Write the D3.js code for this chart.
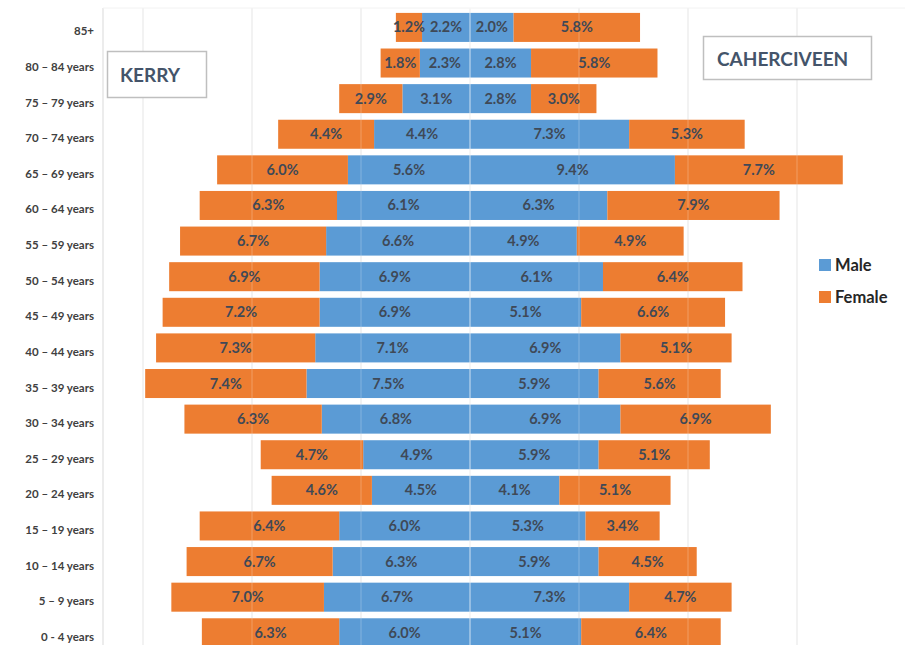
<!DOCTYPE html>
<head>
    <meta charset="utf-8">
    <title>Kerry vs Caherciveen population pyramid</title>
    <script src="https://d3js.org/d3.v7.min.js"></script>
    <style>
        body { margin: 0; background: #fff; }
        text { font-family: Lato, Calibri, "Open Sans", sans-serif; }
    </style>
</head>
<body>
    <script>
        const ageGroups = ["85+", "80 – 84 years", "75 – 79 years", "70 – 74 years", "65 – 69 years",
            "60 – 64 years", "55 – 59 years", "50 – 54 years", "45 – 49 years", "40 – 44 years",
            "35 – 39 years", "30 – 34 years", "25 – 29 years", "20 – 24 years", "15 – 19 years",
            "10 – 14 years", "5 – 9 years", "0 - 4 years"]

        const kerryMale = [2.2, 2.3, 3.1, 4.4, 5.6, 6.1, 6.6, 6.9, 6.9, 7.1, 7.5, 6.8, 4.9, 4.5, 6.0, 6.3, 6.7, 6.0]
        const kerryFemale = [1.2, 1.8, 2.9, 4.4, 6.0, 6.3, 6.7, 6.9, 7.2, 7.3, 7.4, 6.3, 4.7, 4.6, 6.4, 6.7, 7.0, 6.3]
        const caherMale = [2.0, 2.8, 2.8, 7.3, 9.4, 6.3, 4.9, 6.1, 5.1, 6.9, 5.9, 6.9, 5.9, 4.1, 5.3, 5.9, 7.3, 5.1]
        const caherFemale = [5.8, 5.8, 3.0, 5.3, 7.7, 7.9, 4.9, 6.4, 6.6, 5.1, 5.6, 6.9, 5.1, 5.1, 3.4, 4.5, 4.7, 6.4]

        const gridTicks = [-15, -10, -5, 0, 5, 10, 15]
        const legendItems = ["Male", "Female"]

        const width = 908
        const height = 645
        const blue = "#5b9bd5"
        const orange = "#ed7d31"

        const vis = d3.select("body").append("svg")
            .attr("width", width)
            .attr("height", height)

        // value axis: percent, negative = Kerry (left), positive = Caherciveen (right)
        const x = d3.scaleLinear().domain([-15, 15]).range([143, 797])
        const y = d3.scaleBand().domain(ageGroups).range([9.7, 650.5]).paddingInner(0.185).paddingOuter(0.09)

        // stacked segments: male next to centre, female outside
        const segments = []
        ageGroups.forEach((g, i) => {
            segments.push({ g, x0: -kerryMale[i], x1: 0, v: kerryMale[i], c: blue })
            segments.push({ g, x0: -kerryMale[i] - kerryFemale[i], x1: -kerryMale[i], v: kerryFemale[i], c: orange })
            segments.push({ g, x0: 0, x1: caherMale[i], v: caherMale[i], c: blue })
            segments.push({ g, x0: caherMale[i], x1: caherMale[i] + caherFemale[i], v: caherFemale[i], c: orange })
        })

        // light grid below bars
        vis.append("g").selectAll("line")
            .data(gridTicks)
            .join("line")
                .attr("x1", (d) => x(d)).attr("x2", (d) => x(d))
                .attr("y1", 8).attr("y2", height)
                .attr("stroke", "#e3e3e3")

        vis.append("line")
            .attr("x1", 103).attr("x2", 103).attr("y1", 8).attr("y2", height)
            .attr("stroke", "#d9d9d9")
        vis.append("line")
            .attr("x1", 103).attr("x2", 905).attr("y1", 8).attr("y2", 8)
            .attr("stroke", "#f2f2f2")

        vis.append("g").selectAll("rect")
            .data(segments)
            .join("rect")
                .attr("x", (d) => x(d.x0))
                .attr("width", (d) => x(d.x1) - x(d.x0))
                .attr("y", (d) => y(d.g))
                .attr("height", y.bandwidth())
                .attr("fill", (d) => d.c)

        // grid shows faintly through the bars
        vis.append("g").selectAll("line")
            .data(gridTicks)
            .join("line")
                .attr("x1", (d) => x(d)).attr("x2", (d) => x(d))
                .attr("y1", 8).attr("y2", height)
                .attr("stroke", "#ffffff")
                .attr("stroke-opacity", (d) => d === 0 ? 0.7 : 0.25)

        vis.append("g").selectAll("text")
            .data(segments)
            .join("text")
                .attr("x", (d) => (x(d.x0) + x(d.x1)) / 2)
                .attr("y", (d) => y(d.g) + y.bandwidth() / 2 + 5)
                .attr("text-anchor", "middle")
                .attr("font-size", 14.5)
                .attr("font-weight", "bold")
                .attr("fill", "#3f4957")
                .text((d) => d.v.toFixed(1) + "%")

        // category labels
        vis.append("g").selectAll("text")
            .data(ageGroups)
            .join("text")
                .attr("x", 94)
                .attr("y", (d) => y(d) + y.bandwidth() / 2 + 8)
                .attr("text-anchor", "end")
                .attr("font-size", 11.5)
                .attr("font-weight", "bold")
                .attr("fill", "#404040")
                .text((d) => d)

        // title boxes
        vis.append("rect").attr("x", 107.5).attr("y", 51.5).attr("width", 99).attr("height", 46)
            .attr("fill", "#fff").attr("stroke", "#bfbfbf").attr("stroke-width", 1.5)
        vis.append("text").attr("x", 120).attr("y", 82)
            .attr("font-size", 19).attr("font-weight", "bold").attr("fill", "#44546a")
            .text("KERRY")

        vis.append("rect").attr("x", 703.5).attr("y", 36.5).attr("width", 168).attr("height", 43)
            .attr("fill", "#fff").attr("stroke", "#bfbfbf").attr("stroke-width", 1.5)
        vis.append("text").attr("x", 717).attr("y", 66)
            .attr("font-size", 19).attr("font-weight", "bold").attr("fill", "#44546a")
            .text("CAHERCIVEEN")

        // legend
        const legend = vis.append("g").attr("transform", "translate(819, 259)")
        legend.selectAll("rect")
            .data(legendItems)
            .join("rect")
                .attr("x", 0)
                .attr("y", (d, i) => i * 32)
                .attr("width", 12).attr("height", 12)
                .attr("fill", (d, i) => i === 0 ? blue : orange)
        legend.selectAll("text")
            .data(legendItems)
            .join("text")
                .attr("x", 16)
                .attr("y", (d, i) => i * 32 + 12)
                .attr("font-size", 16.5)
                .attr("font-weight", "bold")
                .attr("fill", "#262626")
                .text((d) => d)
    </script>
</body>
